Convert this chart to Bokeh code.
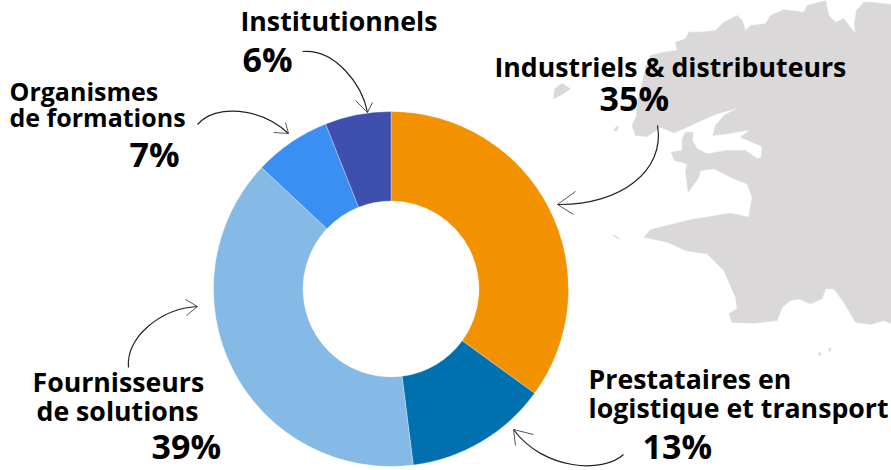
import numpy as np
from bokeh.plotting import figure
from bokeh.models import ColumnDataSource
from bokeh.core.properties import value
from bokeh.embed import file_html
from bokeh.resources import INLINE

# ---- data
categories = ["Industriels & distributeurs", "Prestataires en logistique et transport",
              "Fournisseurs de solutions", "Organismes de formations", "Institutionnels"]
shares = [35, 13, 39, 7, 6]
colors = ["#F39200", "#0071AE", "#85B9E6", "#3B8FF3", "#3F4FAE"]
share_labels = ["35%", "13%", "39%", "7%", "6%"]

# ---- decorative map, traced at 3x from page origin (550, 0)
map_zx = [1023, 960, 940, 918, 912, 915, 880, 855, 835, 825, 770, 760, 700, 660, 645, 600, 585, 575, 560, 520,
          495, 450, 415, 405, 375, 380, 340, 300, 285, 275, 262, 258, 245, 255, 290, 330, 370, 400, 440, 500,
          563, 520, 495, 487, 530, 600, 570, 635, 632, 620, 585, 530, 470, 440, 425, 428, 405, 395, 395, 362,
          372, 410, 405, 413, 445, 450, 490, 550, 590, 605, 595, 540, 420, 300, 280, 350, 405, 470, 520, 555,
          560, 535, 545, 610, 680, 695, 720, 745, 780, 815, 825, 850, 880, 915, 960, 1000, 1023]
map_zy = [12, 5, 5, 30, 70, 100, 55, 65, 45, 0, 15, 35, 28, 45, 70, 75, 90, 60, 45, 65,
          90, 95, 95, 115, 125, 150, 155, 165, 200, 250, 300, 345, 375, 405, 408, 380, 397, 385, 365, 340,
          322, 345, 375, 405, 400, 388, 410, 438, 470, 475, 450, 450, 460, 445, 420, 395, 395, 415, 450, 455,
          480, 490, 515, 575, 530, 510, 505, 535, 550, 590, 650, 638, 658, 688, 710, 725, 750, 760, 810, 890,
          925, 940, 965, 968, 960, 920, 900, 895, 910, 895, 865, 865, 905, 965, 972, 960, 970]
island_zx = [[10, 12, 35, 60, 35], [185, 195, 210, 200], [190, 197, 205, 198], [805, 812, 810, 803], [836, 842, 840, 834]]
island_zy = [[295, 265, 248, 265, 282], [703, 705, 717, 713], [390, 378, 378, 392], [1055, 1057, 1064, 1064], [1042, 1042, 1052, 1052]]

# ---- texts: string, left x, baseline y
titles = ["Institutionnels", "Fournisseurs", "de solutions",
          "Industriels & distributeurs", "Prestataires en", "logistique et transport"]
title_x = [240, 32, 36, 494, 588, 588]
title_y = [31, 392, 421, 77, 389, 418]
titles_small = ["Organismes", "de formations"]
small_x = [9, 9]
small_y = [101, 127]
pct_x = [599, 642, 151, 129, 242]
pct_y = [112, 460, 460, 168, 73]

# ---- arrows (page px): start, control1, control2, end; head tips
arrows = [
    (657, 125, 665, 170, 620, 205, 557, 204, 575, 191, 573, 214),
    (302, 51, 335, 48, 362, 85, 367, 112, 355, 100, 372, 102),
    (197, 124, 215, 103, 260, 107, 288, 133, 273, 132, 285, 122),
    (128, 367, 125, 337, 160, 308, 197, 306, 185, 299, 186, 315),
    (623, 454, 603, 473, 543, 470, 513, 429, 533, 434, 515, 445),
]

H = 470
def fy(y):
    return H - np.asarray(y, dtype=float)

p = figure(width=891, height=470, x_range=(0, 891), y_range=(0, 470),
           output_backend="svg", toolbar_location=None, min_border=0)
p.styles = {"position": "absolute", "left": "0px", "top": "0px"}
p.axis.visible = False
p.grid.visible = False
p.outline_line_color = None
p.background_fill_color = "white"

MAP = "#DAD8D8"
p.patch(550 + np.array(map_zx) / 3, fy(np.array(map_zy) / 3), fill_color=MAP, line_color=MAP, line_width=0.5)
for zx, zy in zip(island_zx, island_zy):
    p.patch(550 + np.array(zx) / 3, fy(np.array(zy) / 3), fill_color=MAP, line_color=MAP, line_width=0.3)

# donut: clockwise from the top
fr = np.cumsum([0] + shares) / sum(shares)
a_start = np.pi / 2 - 2 * np.pi * fr[:-1]
a_end = np.pi / 2 - 2 * np.pi * fr[1:]
src = ColumnDataSource(dict(cat=categories, start=a_start, end=a_end, color=colors,
                            x=[390.5] * 5, y=fy([288.5] * 5)))
p.annular_wedge(x="x", y="y", inner_radius=88, outer_radius=177.5, start_angle="end", end_angle="start",
                fill_color="color", line_color="white", line_width=0.3, source=src)

# arrows
for a in arrows:
    p.bezier(x0=[a[0]], y0=fy([a[1]]), cx0=[a[2]], cy0=fy([a[3]]), cx1=[a[4]], cy1=fy([a[5]]),
             x1=[a[6]], y1=fy([a[7]]), line_color="#222222", line_width=1.2)
    p.line([a[8], a[6], a[10]], fy([a[9], a[7], a[11]]), line_color="#444444", line_width=0.9)

def put(xs, ys, texts, size):
    p.text(xs, fy(ys), text=texts, text_font=value("Open Sans"), text_font_style="bold",
           text_font_size=f"{size}px", text_color="#000000", text_align="left", text_baseline="alphabetic",
           y_offset=-0.42 * size)

put(title_x, title_y, titles, 26.7)
put(small_x, small_y, titles_small, 25)
put(pct_x, pct_y, share_labels, 34)

open("out.html", "w").write(file_html(p, INLINE))
